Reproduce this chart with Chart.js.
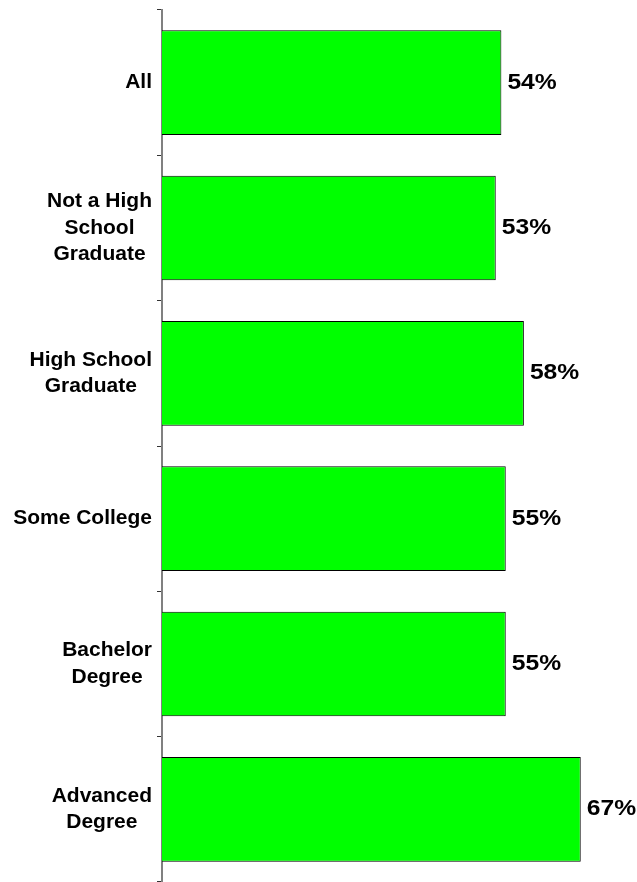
<!DOCTYPE html>
<html>
<head>
<meta charset="utf-8">
<script src="https://cdn.jsdelivr.net/npm/chart.js@4/dist/chart.umd.min.js"></script>
<style>
  html, body { margin: 0; padding: 0; background: #ffffff; }
  #wrap { width: 637px; height: 882px; position: relative; }
</style>
</head>
<body>
<div id="wrap"><canvas id="c" width="637" height="882"></canvas></div>
<script>
// Categories (multi-line labels) and values
const categories = [
  ["All"],
  ["Not a High", "School", "Graduate"],
  ["High School", "Graduate"],
  ["Some College"],
  ["Bachelor", "Degree"],
  ["Advanced", "Degree"]
];
const values = [54.3, 53.4, 57.9, 55.0, 55.0, 67.0];
const valueLabels = ["54%", "53%", "58%", "55%", "55%", "67%"];

const FONT = '"Liberation Sans", Arial, Helvetica, sans-serif';

const catLabelPlugin = {
  id: 'catLabels',
  afterDraw(chart) {
    const ctx = chart.ctx;
    const yScale = chart.scales.y;
    ctx.save();
    ctx.font = 'bold 21px ' + FONT;
    ctx.fillStyle = '#000000';
    ctx.textAlign = 'center';
    ctx.textBaseline = 'middle';
    const lineH = 26.7;
    const rightEdge = chart.chartArea.left - 10;
    categories.forEach((lines, i) => {
      const yc = yScale.getPixelForValue(i);
      let widest = 0;
      lines.forEach(l => { widest = Math.max(widest, ctx.measureText(l).width); });
      const xc = rightEdge - widest / 2;
      const y0 = yc - (lines.length - 1) * lineH / 2;
      lines.forEach((l, k) => ctx.fillText(l, xc, y0 + k * lineH));
    });
    ctx.restore();
  }
};

const valueLabelPlugin = {
  id: 'valueLabels',
  afterDatasetsDraw(chart) {
    const ctx = chart.ctx;
    const meta = chart.getDatasetMeta(0);
    meta.data.forEach((bar, i) => {
      ctx.save();
      ctx.font = 'bold 22px ' + FONT;
      ctx.fillStyle = '#000000';
      ctx.textAlign = 'left';
      ctx.textBaseline = 'middle';
      ctx.translate(bar.x + 6, bar.y);
      ctx.scale(1.12, 1);
      ctx.fillText(valueLabels[i], 0, 0);
      ctx.restore();
    });
  }
};

new Chart(document.getElementById('c'), {
  type: 'bar',
  data: {
    labels: categories,
    datasets: [{
      data: values,
      backgroundColor: '#00ff00',
      borderColor: '#000000',
      borderWidth: 1,
      borderSkipped: 'start',
      categoryPercentage: 1.0,
      barPercentage: 0.72
    }]
  },
  options: {
    indexAxis: 'y',
    responsive: false,
    animation: false,
    devicePixelRatio: 1,
    layout: { padding: { top: 10, right: 0, bottom: 0, left: 0 } },
    plugins: {
      legend: { display: false },
      tooltip: { enabled: false }
    },
    scales: {
      x: {
        display: false,
        min: 0,
        max: 76
      },
      y: {
        z: 1,
        offset: true,
        afterFit(scale) { scale.width = 162; },
        border: { display: true, color: '#808080', width: 2 },
        grid: {
          offset: true,
          drawOnChartArea: false,
          drawTicks: true,
          tickLength: 5,
          tickColor: '#333333',
          tickWidth: 1
        },
        ticks: { display: false }
      }
    }
  },
  plugins: [catLabelPlugin, valueLabelPlugin]
});
</script>
</body>
</html>
